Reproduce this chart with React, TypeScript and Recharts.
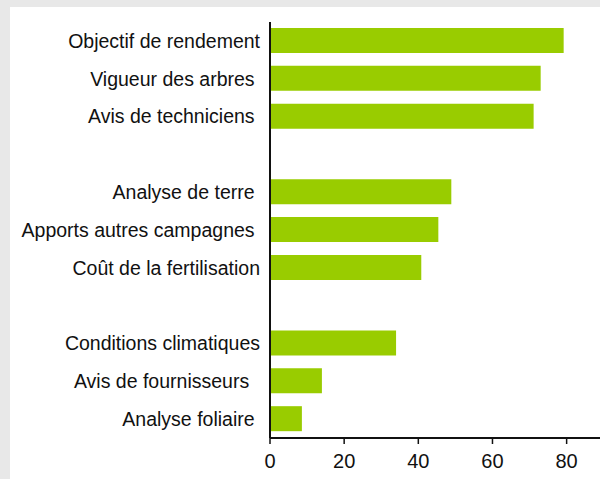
import { BarChart, Bar, XAxis, YAxis } from 'recharts'

const labels = [
  'Objectif de rendement',
  'Vigueur des arbres ',
  'Avis de techniciens ',
  ' ',
  'Analyse de terre ',
  'Apports autres campagnes ',
  'Coût de la fertilisation',
  '  ',
  'Conditions climatiques',
  'Avis de fournisseurs  ',
  'Analyse foliaire ',
]

const values: (number | null)[] = [79.2, 73, 71.1, null, 48.9, 45.4, 40.8, null, 34, 14, 8.6]

const xTicks = [0, 20, 40, 60, 80]

const data = labels.map((name, i) => ({ name, value: values[i] }))

const FONT = '"Liberation Sans", Arial, sans-serif'

function LabelTick({ x, y, payload }: any) {
  return (
    <text
      x={x}
      y={y}
      dy="0.355em"
      textAnchor="end"
      fill="#111"
      fontSize={19.5}
      fontFamily={FONT}
      style={{ whiteSpace: 'pre' }}
    >
      {payload.value}
    </text>
  )
}

export default function App() {
  return (
    <div style={{ position: 'fixed', left: 0, top: 0, width: 600, height: 479, background: '#e8e8e8' }}>
      <div style={{ position: 'absolute', left: 10, top: 7, width: 590, height: 472, background: '#fff' }}>
        <BarChart
          width={590}
          height={472}
          data={data}
          layout="vertical"
          margin={{ top: 15, right: 0, bottom: 0, left: 0 }}
          barCategoryGap={13}
        >
          <XAxis
            type="number"
            domain={[0, 89]}
            ticks={xTicks}
            height={41}
            axisLine={{ stroke: '#111', strokeWidth: 2 }}
            tickLine={{ stroke: '#111', strokeWidth: 1.5 }}
            tickSize={6}
            tickMargin={10}
            tick={{ fill: '#111', fontSize: 20, fontFamily: FONT }}
          />
          <YAxis
            type="category"
            dataKey="name"
            width={260}
            axisLine={{ stroke: '#111', strokeWidth: 2 }}
            tickLine={false}
            tickSize={0}
            tickMargin={10}
            interval={0}
            tick={<LabelTick />}
          />
          <Bar dataKey="value" fill="#99cc00" barSize={25} isAnimationActive={false} />
        </BarChart>
      </div>
    </div>
  )
}
